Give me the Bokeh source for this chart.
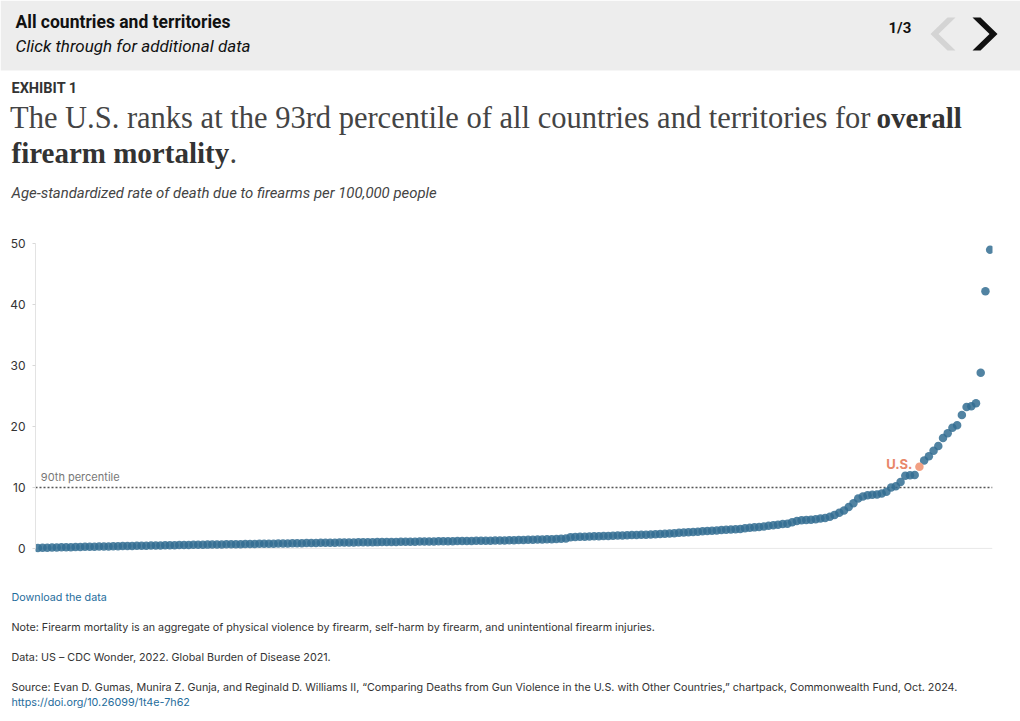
from bokeh.plotting import figure
from bokeh.models import Range1d, Span, Label, FixedTicker, ColumnDataSource
from bokeh.core.properties import value
from bokeh.embed import file_html
from bokeh.resources import INLINE

# ---------------- data ----------------
# age-standardized firearm death rate per 100,000, countries sorted ascending
rates_low = [
    0.05, 0.10, 0.12, 0.14, 0.15, 0.17, 0.19, 0.20, 0.22, 0.24,
    0.26, 0.28, 0.29, 0.30, 0.32, 0.33, 0.35, 0.36, 0.38, 0.39,
    0.40, 0.42, 0.43, 0.45, 0.46, 0.47, 0.49, 0.50, 0.51, 0.53,
    0.54, 0.55, 0.57, 0.58, 0.59, 0.60, 0.62, 0.63, 0.64, 0.65,
    0.67, 0.68, 0.69, 0.70, 0.71, 0.72, 0.74, 0.75, 0.76, 0.77,
    0.78, 0.80, 0.81, 0.82, 0.83, 0.85, 0.86, 0.87, 0.88, 0.90,
    0.91, 0.92, 0.93, 0.94, 0.95, 0.96, 0.97, 0.98, 0.99, 1.00,
    1.01, 1.02, 1.03, 1.04, 1.05, 1.06, 1.07, 1.08, 1.09, 1.10,
    1.11, 1.12, 1.13, 1.14, 1.15, 1.16, 1.17, 1.18, 1.19, 1.20,
    1.21, 1.22, 1.23, 1.24, 1.25, 1.26, 1.27, 1.28, 1.30, 1.31,
    1.33, 1.35, 1.37, 1.39, 1.41, 1.43, 1.45, 1.47, 1.50, 1.52,
    1.55, 1.58, 1.62, 1.85, 1.88, 1.90, 1.93, 1.95, 1.98, 2.00,
    2.03, 2.05, 2.08, 2.10, 2.13, 2.15, 2.18, 2.20, 2.23, 2.26,
    2.30, 2.33, 2.37, 2.40, 2.45, 2.50, 2.55, 2.60, 2.65, 2.70,
    2.75, 2.80, 2.85, 2.90, 2.95, 3.00, 3.05, 3.10, 3.15, 3.20,
    3.30, 3.40, 3.45, 3.50,
]
rates_before_us = [
    3.6, 3.7, 3.8, 3.9, 4.0, 4.05, 4.3, 4.5, 4.6, 4.65,
    4.7, 4.8, 4.9, 5.0, 5.2, 5.5, 5.85, 6.2, 6.8, 7.4,
    8.2, 8.5, 8.7, 8.8, 8.85, 9.0, 9.3, 10.0, 10.2, 10.9,
    11.9, 12.0, 12.05,
]
us_rate = 13.4
rates_after_us = [
    14.4, 15.1, 16.0, 16.8, 18.1, 18.9, 19.8, 20.2, 21.9, 23.2,
    23.3, 23.8, 28.8, 42.2, 49.0,
]
y_ticks = [0, 10, 20, 30, 40, 50]
percentile_90 = 10
us_label = "U.S."

rates = rates_low + rates_before_us + [us_rate] + rates_after_us
n = len(rates)
us_rank = len(rates_low) + len(rates_before_us)
ranks = list(range(n))
other_x = [r for r in ranks if r != us_rank]
other_y = [rates[r] for r in ranks if r != us_rank]

# ---------------- styles ----------------
W = 1020
BLUE = "#326d92"
SALMON = "#f2a083"
SALMON_TXT = "#e8876a"
TXT = "#333333"
LINK = "#1f6d9c"
FOOT = "10.75px"


def blank(h):
    f = figure(width=W, height=h, x_range=Range1d(0, W), y_range=Range1d(h, 0),
               toolbar_location=None, output_backend="svg", min_border=0,
               x_axis_location=None, y_axis_location=None)
    f.grid.visible = False
    f.outline_line_color = None
    f.background_fill_color = "white"
    f.border_fill_color = "white"
    return f


def put(f, x, y, s, font="Inter", size=FOOT, style="normal", color=TXT,
        align="left", baseline="alphabetic"):
    f.text(x=[x], y=[y], text=[s], text_font=value(font), text_font_size=size,
           text_font_style=style, text_color=color, text_align=align,
           text_baseline=baseline)


# ---------------- header (page y 0..205) ----------------
HH = 205
hdr = blank(HH)
hdr.quad(left=[0], right=[W], top=[0], bottom=[70], fill_color="#ededed", line_color=None)
put(hdr, 15, 21, "All countries and territories", font="Roboto", size="17.5px", style="bold", color="#111111")
put(hdr, 15, 45, "Click through for additional data", font="Roboto", size="17px", style="italic", color="#111111")
put(hdr, 888, 27, "1/3", font="Roboto", size="15px", style="bold", color="#111111")
hdr.patch(x=[955, 947, 930, 947, 955, 938], y=[17, 17, 33.5, 50, 50, 33.5],
          fill_color="#d4d4d4", line_color=None)
hdr.patch(x=[972, 980, 997, 980, 972, 989], y=[17, 17, 33.5, 50, 50, 33.5],
          fill_color="#111111", line_color=None)

put(hdr, 11, 88, "EXHIBIT 1", font="Roboto", size="14.5px", style="bold", color="#333333")
put(hdr, 870, 117, "The U.S. ranks at the 93rd percentile of all countries and territories for",
    font="Liberation Serif", size="30.5px", color="#444444", align="right")
put(hdr, 876, 117, "overall", font="Liberation Serif", size="29px", style="bold", color="#333333")
put(hdr, 11, 152, "firearm mortality", font="Liberation Serif", size="29px", style="bold", color="#333333")
put(hdr, 229, 152, ".", font="Liberation Serif", size="30.5px", color="#444444")
put(hdr, 11, 192, "Age-standardized rate of death due to firearms per 100,000 people",
    font="Roboto", size="14.9px", style="italic", color="#444444")

# ---------------- chart (page y 205..570) ----------------
p = figure(width=W, height=365, x_range=Range1d(-0.5, n - 0.5), y_range=Range1d(-1, 51),
           toolbar_location=None, output_backend="svg",
           min_border_left=35, min_border_right=28, min_border_top=32, min_border_bottom=16,
           x_axis_location=None)
p.grid.visible = False
p.outline_line_color = None
p.background_fill_color = "white"
p.border_fill_color = "white"
p.yaxis.ticker = FixedTicker(ticks=y_ticks)
p.yaxis.bounds = (0, 50)
p.yaxis.axis_line_color = "#e3e3e3"
p.yaxis.major_tick_line_color = "#d8d8d8"
p.yaxis.major_tick_out = 3
p.yaxis.major_tick_in = 0
p.yaxis.minor_tick_line_color = None
p.yaxis.major_label_standoff = 7
p.yaxis.major_label_text_font = "Inter"
p.yaxis.major_label_text_font_size = "12px"
p.yaxis.major_label_text_color = "#333333"

p.add_layout(Span(location=0, dimension="width", line_color="#e8e8e8", line_width=1, level="underlay"))
p.add_layout(Span(location=percentile_90, dimension="width", line_color="#555555",
                  line_width=1.5, line_dash="2 2", level="underlay"))
p.add_layout(Label(x=0, y=percentile_90, x_offset=3, y_offset=3, text="90th percentile",
                   text_font="Inter", text_font_size="11px", text_color="#777777",
                   text_baseline="bottom"))

src = ColumnDataSource(dict(x=other_x, y=other_y))
p.scatter("x", "y", source=src, size=8.5, fill_color=BLUE, fill_alpha=0.85, line_color=None)
p.scatter(x=[us_rank], y=[us_rate], size=8.5, fill_color=SALMON, fill_alpha=1.0, line_color=None)
p.add_layout(Label(x=us_rank, y=us_rate, x_offset=-7, y_offset=3, text=us_label,
                   text_font="Inter", text_font_size="13px", text_font_style="bold",
                   text_color=SALMON_TXT, text_align="right", text_baseline="middle"))

# ---------------- footer (page y 570..715) ----------------
FH = 145
ftr = blank(FH)
put(ftr, 11, 27, "Download the data", color=LINK)
put(ftr, 11, 57, "Note: Firearm mortality is an aggregate of physical violence by firearm, self-harm by firearm, and unintentional firearm injuries.")
put(ftr, 11, 87, "Data: US \u2013 CDC Wonder, 2022. Global Burden of Disease 2021.")
put(ftr, 11, 117, "Source: Evan D. Gumas, Munira Z. Gunja, and Reginald D. Williams II, \u201cComparing Deaths from Gun Violence in the U.S. with Other Countries,\u201d chartpack, Commonwealth Fund, Oct. 2024.")
put(ftr, 11, 132, "https://doi.org/10.26099/1t4e-7h62", color=LINK)

open("out.html", "w").write(file_html([hdr, p, ftr], INLINE))
